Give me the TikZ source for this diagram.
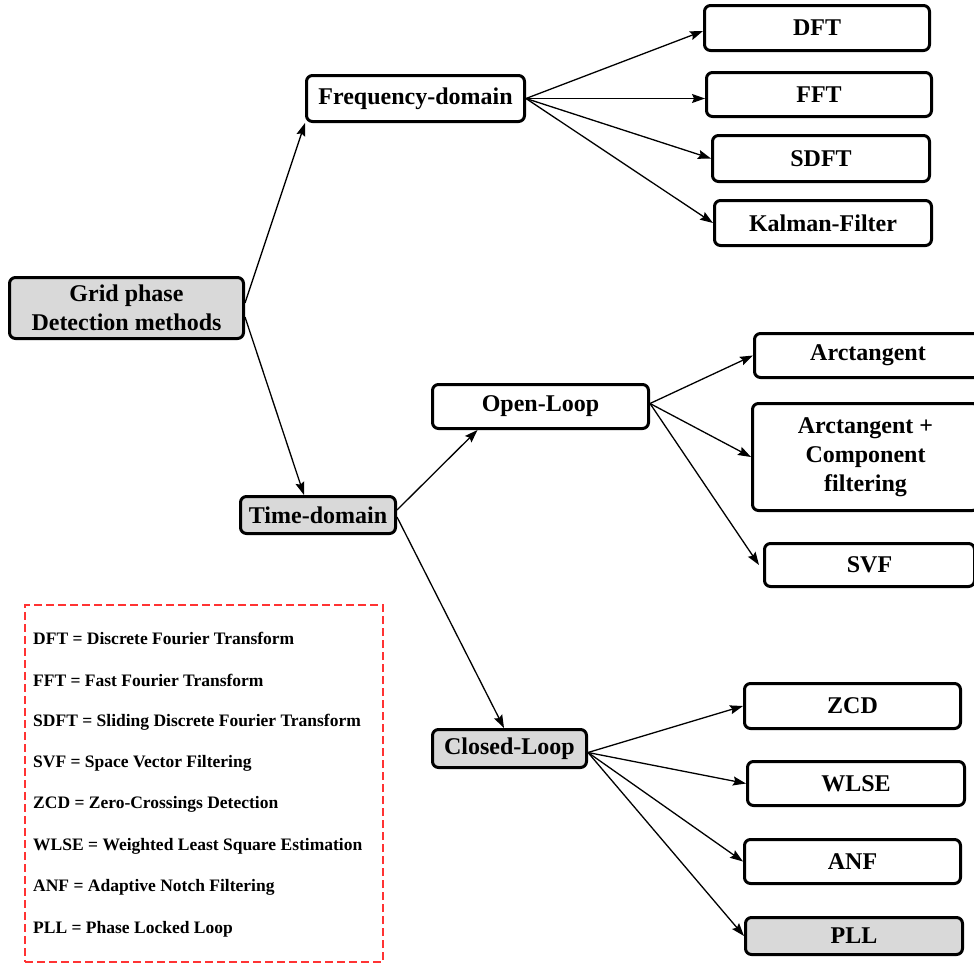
\documentclass[tikz,border=0pt]{standalone}
\usepackage{fontspec}
\setmainfont{Liberation Serif}
\usetikzlibrary{arrows.meta}
\definecolor{boxgray}{HTML}{D9D9D9}
\definecolor{legendred}{HTML}{FF3333}
\begin{document}
\begin{tikzpicture}[x=1pt,y=-1pt,
  box/.style={draw=black,line width=3pt,rounded corners=6pt,inner sep=0pt,
    align=center,font=\fontsize{24}{29}\selectfont\bfseries,fill=white},
  graybox/.style={box,fill=boxgray},
  conn/.style={line width=1.3pt,-{Stealth[length=13pt,width=9pt,inset=2pt]}},
  legtext/.style={anchor=west,inner sep=0pt,font=\fontsize{17.5}{20}\selectfont\bfseries}]
\useasboundingbox (0,0) rectangle (974,964);

% nodes
\node[graybox,minimum width=234pt,minimum height=61pt] (root) at (126.5,308) {Grid phase\\Detection methods};
\node[box,minimum width=218pt,minimum height=46pt] (freq) at (415.5,98.5) {Frequency-domain};
\node[box,minimum width=225pt,minimum height=45pt] (dft) at (817,28) {DFT};
\node[box,minimum width=225pt,minimum height=44pt] (fft) at (819,94.5) {FFT};
\node[box,minimum width=217pt,minimum height=46pt] (sdft) at (821,158.5) {SDFT};
\node[box,minimum width=217pt,minimum height=45pt] (kal) at (823,223) {Kalman-Filter};

\node[graybox,minimum width=155pt,minimum height=37pt] (time) at (318,515) {Time-domain};
\node[box,minimum width=216pt,minimum height=44pt] (open) at (540.5,406.5) {Open-Loop};
\node[box,minimum width=227pt,minimum height=44pt] (arct) at (868,355.5) {Arctangent};
\node[box,minimum width=226pt,minimum height=107pt] (comp) at (865.5,457) {Arctangent +\\Component\\filtering};
\node[box,minimum width=210pt,minimum height=43pt] (svf) at (869.5,565) {SVF};

\node[graybox,minimum width=154pt,minimum height=38pt] (closed) at (509.5,748.5) {Closed-Loop};
\node[box,minimum width=216pt,minimum height=45pt] (zcd) at (852.5,706) {ZCD};
\node[box,minimum width=217pt,minimum height=44pt] (wlse) at (856,783.5) {WLSE};
\node[box,minimum width=216pt,minimum height=44pt] (anf) at (852.5,861.5) {ANF};
\node[graybox,minimum width=217pt,minimum height=37pt] (pll) at (854,936) {PLL};

% connectors
\draw[conn] ([yshift=5pt]root.east) -- (freq.south west);
\draw[conn] ([yshift=-9pt]root.east) -- ([xshift=-14pt]time.north);
\draw[conn] (freq.east) -- ([yshift=-3pt]dft.west);
\draw[conn] (freq.east) -- ([yshift=-4pt]fft.west);
\draw[conn] (freq.east) -- (sdft.west);
\draw[conn] (freq.east) -- (kal.west);
\draw[conn] ([yshift=5pt]time.east) -- ([xshift=-63pt]open.south);
\draw[conn] ([yshift=-2pt]time.east) -- ([xshift=-5.5pt]closed.north);
\draw[conn] ([yshift=3pt]open.east) -- (arct.west);
\draw[conn] ([yshift=3pt]open.east) -- (comp.west);
\draw[conn] ([yshift=3pt]open.east) -- ([xshift=-4pt]svf.west);
\draw[conn] ([yshift=-4pt]closed.east) -- (zcd.west);
\draw[conn] ([yshift=-4pt]closed.east) -- (wlse.west);
\draw[conn] ([yshift=-4pt]closed.east) -- (anf.west);
\draw[conn] ([yshift=-4pt]closed.east) -- (pll.west);

% legend
\node[draw=legendred,line width=1.3pt,dash pattern=on 8pt off 4pt,
  minimum width=358pt,minimum height=357pt,inner sep=0pt] (legend) at (204,783.5) {};
\node[legtext] (l1) at (33,638) {DFT = Discrete Fourier Transform};
\node[legtext] (l2) at (33,680) {FFT = Fast Fourier Transform};
\node[legtext] (l3) at (33,722) {SDFT = Sliding Discrete Fourier Transform};
\node[legtext] (l4) at (33,763) {SVF = Space Vector Filtering};
\node[legtext] (l5) at (33,804) {ZCD = Zero-Crossings Detection};
\node[legtext] (l6) at (33,846) {WLSE = Weighted Least Square Estimation};
\node[legtext] (l7) at (33,887) {ANF = Adaptive Notch Filtering};
\node[legtext] (l8) at (33,929) {PLL = Phase Locked Loop};
\end{tikzpicture}
\end{document}
